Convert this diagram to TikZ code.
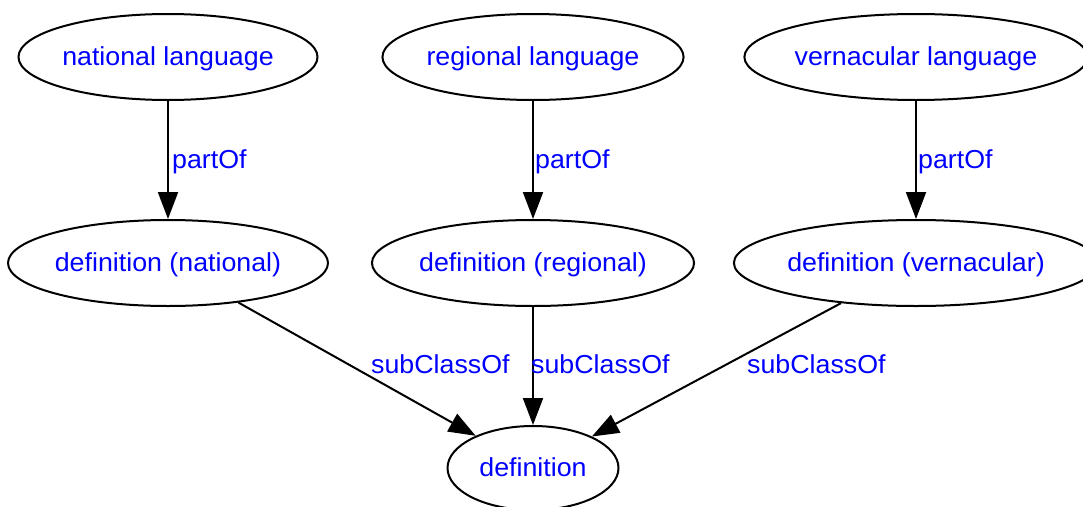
\documentclass[tikz,border=0pt]{standalone}
\usepackage{fontspec}
\setmainfont{Liberation Sans}[FakeStretch=1.03]
\usetikzlibrary{shapes.geometric,arrows.meta}
\definecolor{lbl}{RGB}{0,0,255}
\tikzset{
  concept/.style={ellipse, draw=black, line width=2pt, inner sep=0pt,
    minimum height=86pt, text=lbl, font=\fontsize{26}{28}\selectfont,
    text height=16pt, text depth=0pt},
  rel/.style={draw=black, line width=2pt, -{Triangle[length=27pt,width=20pt]}},
  rellabel/.style={anchor=base west, text=lbl, inner sep=0pt,
    font=\fontsize{26}{28}\selectfont}
}
\begin{document}
\begin{tikzpicture}[x=1pt,y=-1pt]
  \useasboundingbox (0,0) rectangle (1083,506);
  \begin{scope}
  \clip (0,0) rectangle (1083,506);
  % top row: language kinds
  \node[concept, minimum width=296pt] (natlang) at (168,57) {national language};
  \node[concept, minimum width=296pt] (reglang) at (533,57) {regional language};
  \node[concept, minimum width=334pt] (verlang) at (916,57) {vernacular language};
  % middle row: definitions
  \node[concept, minimum width=315pt] (defnat) at (168,263) {definition (national)};
  \node[concept, minimum width=315pt] (defreg) at (533,263) {definition (regional)};
  \node[concept, minimum width=356pt] (defver) at (916,263) {definition (vernacular)};
  % bottom: general definition
  \node[concept, minimum width=171pt, minimum height=84pt] (def) at (533,468) {definition};

  % partOf relations
  \draw[rel] (natlang) -- (defnat);
  \draw[rel] (reglang) -- (defreg);
  \draw[rel] (verlang) -- (defver);
  \node[rellabel] (l1) at (172,168) {partOf};
  \node[rellabel] (l2) at (535,168) {partOf};
  \node[rellabel] (l3) at (918,168) {partOf};

  % subClassOf relations
  \draw[rel] (defnat) -- (def);
  \draw[rel] (defreg) -- (def);
  \draw[rel] (defver) -- (def);
  \node[rellabel] (l4) at (371,373) {subClassOf};
  \node[rellabel] (l5) at (531,373) {subClassOf};
  \node[rellabel] (l6) at (747,373) {subClassOf};
  \end{scope}
\end{tikzpicture}
\end{document}
